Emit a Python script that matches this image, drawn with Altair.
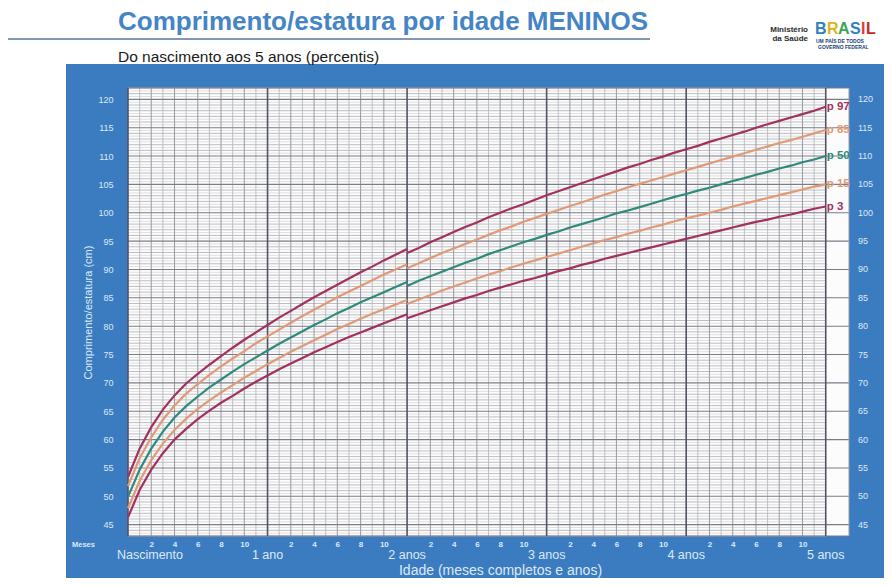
import altair as alt
import pandas as pd

# ---------------- data (WHO length/height-for-age, boys) ----------------
PCTS = ["p97", "p85", "p50", "p15", "p3"]
LABELS = ["p 97", "p 85", "p 50", "p 15", "p 3"]
COLORS = ["#a3305e", "#e09a77", "#2f8a7c", "#e09a77", "#a3305e"]

months_len = list(range(0, 25))
len_p3 = [46.3, 51.1, 54.7, 57.6, 60.0, 61.9, 63.6, 65.1, 66.5, 67.7, 69.0, 70.2, 71.3,
          72.4, 73.4, 74.4, 75.4, 76.3, 77.2, 78.1, 78.9, 79.7, 80.5, 81.3, 82.1]
len_p15 = [47.9, 52.7, 56.4, 59.3, 61.7, 63.7, 65.4, 66.9, 68.3, 69.6, 70.9, 72.1, 73.3,
           74.4, 75.5, 76.5, 77.5, 78.5, 79.5, 80.4, 81.3, 82.2, 83.0, 83.8, 84.6]
len_p50 = [49.9, 54.7, 58.4, 61.4, 63.9, 65.9, 67.6, 69.2, 70.6, 72.0, 73.3, 74.5, 75.7,
           76.9, 78.0, 79.1, 80.2, 81.2, 82.3, 83.2, 84.2, 85.1, 86.0, 86.9, 87.8]
len_p85 = [51.8, 56.7, 60.4, 63.5, 66.0, 68.1, 69.8, 71.4, 72.9, 74.3, 75.6, 77.0, 78.2,
           79.4, 80.6, 81.8, 82.9, 84.0, 85.1, 86.1, 87.1, 88.1, 89.1, 90.0, 90.9]
len_p97 = [53.4, 58.4, 62.2, 65.3, 67.8, 69.9, 71.6, 73.2, 74.7, 76.2, 77.6, 78.9, 80.2,
           81.5, 82.7, 83.9, 85.1, 86.2, 87.3, 88.4, 89.5, 90.5, 91.6, 92.6, 93.6]

months_hgt = list(range(24, 61))
hgt_p3 = [81.4, 82.1, 82.8, 83.5, 84.2, 84.9, 85.5, 86.2, 86.8, 87.4, 88.0, 88.5, 89.1,
          89.7, 90.2, 90.8, 91.3, 91.9, 92.4, 92.9, 93.4, 93.9, 94.4, 94.9, 95.4,
          95.9, 96.4, 96.9, 97.4, 97.9, 98.4, 98.8, 99.3, 99.7, 100.2, 100.7, 101.1]
hgt_p15 = [83.9, 84.7, 85.5, 86.3, 87.0, 87.7, 88.4, 89.1, 89.7, 90.4, 91.0, 91.6, 92.2,
           92.8, 93.4, 94.0, 94.6, 95.2, 95.7, 96.3, 96.8, 97.4, 97.9, 98.5, 99.0,
           99.5, 100.0, 100.5, 101.1, 101.6, 102.1, 102.6, 103.1, 103.6, 104.1, 104.6, 105.0]
hgt_p50 = [87.1, 88.0, 88.8, 89.6, 90.4, 91.2, 91.9, 92.7, 93.4, 94.1, 94.8, 95.4, 96.1,
           96.7, 97.4, 98.0, 98.6, 99.2, 99.9, 100.4, 101.0, 101.6, 102.2, 102.8, 103.3,
           103.9, 104.4, 105.0, 105.6, 106.1, 106.7, 107.2, 107.8, 108.3, 108.9, 109.4, 110.0]
hgt_p85 = [90.2, 91.1, 92.0, 92.9, 93.7, 94.5, 95.3, 96.1, 96.9, 97.6, 98.4, 99.1, 99.8,
           100.5, 101.2, 101.8, 102.5, 103.2, 103.8, 104.5, 105.1, 105.7, 106.3, 106.9, 107.5,
           108.1, 108.7, 109.3, 109.9, 110.5, 111.1, 111.7, 112.3, 112.8, 113.4, 114.0, 114.6]
hgt_p97 = [92.9, 93.8, 94.8, 95.7, 96.6, 97.5, 98.3, 99.2, 100.0, 100.8, 101.5, 102.3, 103.1,
           103.8, 104.5, 105.2, 105.9, 106.6, 107.3, 108.0, 108.6, 109.3, 109.9, 110.6, 111.2,
           111.8, 112.5, 113.1, 113.7, 114.3, 115.0, 115.6, 116.2, 116.8, 117.4, 118.0, 118.7]

y_ticks = list(range(45, 121, 5))
month_ticks = [m for m in range(2, 60, 2) if m % 12 != 0]
year_months = [12, 24, 36, 48, 60]
year_labels = ["1 ano", "2 anos", "3 anos", "4 anos", "5 anos"]

# ---------------- layout / style ----------------
W, H = 721, 448
X_DOM = [0, 62]
Y_DOM = [43, 122]
BLUE = "#3b7cc0"
LIGHT = "#dde9f6"
FONT = "Liberation Sans"

rows = []
len_series = [len_p97, len_p85, len_p50, len_p15, len_p3]
hgt_series = [hgt_p97, hgt_p85, hgt_p50, hgt_p15, hgt_p3]
for p, ls, hs in zip(PCTS, len_series, hgt_series):
    for m, v in zip(months_len, ls):
        rows.append({"x": m, "y": v, "pct": p, "seg": "comprimento"})
    for m, v in zip(months_hgt, hs):
        rows.append({"x": m, "y": v, "pct": p, "seg": "estatura"})
curves = pd.DataFrame(rows)

ends = pd.DataFrame({"x": [60] * 5, "y": [s[-1] for s in hgt_series], "pct": PCTS, "t": LABELS})

xs = alt.Scale(domain=X_DOM, nice=False, zero=False)
ys = alt.Scale(domain=Y_DOM, nice=False, zero=False)

AX_X = alt.Axis(values=month_ticks, labelExpr="datum.value % 12", labelFontSize=8,
                labelColor=LIGHT, labelFont=FONT, labelFontWeight="bold", labelPadding=4,
                ticks=False, domain=False, grid=False, zindex=1,
                title="Idade (meses completos e anos)", titleFont=FONT, titleFontSize=14,
                titleFontWeight="normal", titleColor=LIGHT, titleX=372, titleY=34,
                titleBaseline="middle", titleAnchor="middle")
AX_Y = alt.Axis(values=y_ticks, labelFontSize=9, labelColor=LIGHT, labelFont=FONT,
                labelPadding=15, ticks=False, domain=False, grid=False, zindex=1,
                title="Comprimento/estatura (cm)", titleFont=FONT, titleFontSize=11,
                titleFontWeight="normal", titleColor=LIGHT, titleX=-40, titleY=H / 2,
                titleBaseline="middle", titleAnchor="middle")


def X(f):
    return alt.X(f"{f}:Q", scale=xs, axis=AX_X)


def Y(f):
    return alt.Y(f"{f}:Q", scale=ys, axis=AX_Y)


one = pd.DataFrame({"a": [0]})

panel = alt.Chart(one).mark_rect(color=BLUE).encode(
    x=alt.value(-62), x2=alt.value(760), y=alt.value(-24), y2=alt.value(492))

paper = alt.Chart(pd.DataFrame({"x": [X_DOM[0]], "x2": [X_DOM[1]], "y": [Y_DOM[0]], "y2": [Y_DOM[1]]})
                  ).mark_rect(color="#fbfcfb").encode(x=X("x"), x2="x2", y=Y("y"), y2="y2")

# grid lines
half = [v / 2 for v in range(2 * Y_DOM[0], 2 * Y_DOM[1] + 1)]
h_minor = pd.DataFrame({"y": [v for v in half if v % 1 != 0], "x": 0, "x2": 60})
h_cm = pd.DataFrame({"y": [v for v in half if v % 1 == 0 and v % 5 != 0], "x": 0, "x2": 60})
h_five = pd.DataFrame({"y": [v for v in half if v % 5 == 0] + [Y_DOM[0], Y_DOM[1]], "x": 0, "x2": X_DOM[1]})
v_odd = pd.DataFrame({"x": [m for m in range(61) if m % 2 == 1], "y": Y_DOM[0], "y2": Y_DOM[1]})
v_even = pd.DataFrame({"x": [m for m in range(61) if m % 2 == 0 and m % 12 != 0], "y": Y_DOM[0], "y2": Y_DOM[1]})
v_year = pd.DataFrame({"x": [0, 12, 24, 36, 48, 60], "y": Y_DOM[0], "y2": Y_DOM[1]})
v_edge = pd.DataFrame({"x": [X_DOM[1]], "y": Y_DOM[0], "y2": Y_DOM[1]})


def hrule(df, color, w):
    return alt.Chart(df).mark_rule(color=color, strokeWidth=w).encode(x=X("x"), x2="x2", y=Y("y"))


def vrule(df, color, w):
    return alt.Chart(df).mark_rule(color=color, strokeWidth=w).encode(x=X("x"), y=Y("y"), y2="y2")


grid = [
    hrule(h_minor, "#d8d8da", 0.8),
    hrule(h_cm, "#b6b6bc", 0.9),
    vrule(v_odd, "#b9b9c1", 0.9),
    vrule(v_even, "#9a99a6", 1.0),
    hrule(h_five, "#7c7b88", 1.1),
    vrule(v_year, "#535268", 1.6),
    vrule(v_edge, "#9a99a6", 1.0),
]

color = alt.Color("pct:N", scale=alt.Scale(domain=PCTS, range=COLORS), legend=None)

lines = alt.Chart(curves).mark_line(strokeWidth=2.2).encode(
    x=X("x"), y=Y("y"), color=color, detail="seg:N")

end_labels = alt.Chart(ends).mark_text(align="left", baseline="middle", dx=1, fontSize=11.5,
                                       fontWeight="bold", font=FONT).encode(
    x=X("x"), y=Y("y"), text="t:N", color=color)

right_axis = alt.Chart(pd.DataFrame({"y": y_ticks})).mark_text(
    align="left", baseline="middle", fontSize=9, font=FONT, color=LIGHT).encode(
    x=alt.value(W + 9), y=Y("y"), text="y:Q")

years = alt.Chart(pd.DataFrame({"x": year_months, "t": year_labels})).mark_text(
    align="center", baseline="middle", fontSize=12.5, font=FONT, color=LIGHT).encode(
    x=X("x"), y=alt.value(H + 19), text="t:N")

birth = alt.Chart(pd.DataFrame({"x": [0], "t": ["Nascimento"]})).mark_text(
    align="left", baseline="middle", fontSize=12.5, font=FONT, color=LIGHT, dx=-11).encode(
    x=X("x"), y=alt.value(H + 19), text="t:N")


def label(text, x, y, size, color, weight="normal", align="left"):
    return alt.Chart(pd.DataFrame({"t": [text]})).mark_text(
        align=align, baseline="middle", fontSize=size, fontWeight=weight, font=FONT, color=color
    ).encode(x=alt.value(x), y=alt.value(y), text="t:N")


meses = label("Meses", -56, H + 9, 7.5, LIGHT, "bold")
title = label("Comprimento/estatura por idade MENINOS", -10, -66, 26, "#4585c6", "bold")
subtitle = label("Do nascimento aos 5 anos (percentis)", -10, -31, 15.5, "#1a1a1a")

underline = alt.Chart(one).mark_rule(color="#8198b2", strokeWidth=2).encode(
    x=alt.value(-125), x2=alt.value(522), y=alt.value(-49))

ministerio = [label("Ministério", 680, -58, 8, "#2b2b2b", "bold", "right"),
              label("da Saúde", 680, -49, 8, "#2b2b2b", "bold", "right")]

logo_letters = ["B", "R", "A", "S", "I", "L"]
logo_x = [687, 699, 710, 722, 733, 738]
logo_colors = ["#2f7fc1", "#e0b318", "#3aa655", "#2f7fc1", "#e53935", "#c62828"]
logo = [label(t, xx, -59, 16, c, "bold") for t, xx, c in zip(logo_letters, logo_x, logo_colors)]
logo_small = [label("UM PAÍS DE TODOS", 688, -47, 5, "#1d3f73", "bold"),
              label("GOVERNO FEDERAL", 690, -41, 5, "#1d3f73", "bold")]

chart = alt.layer(
    panel, paper, *grid, lines, end_labels, right_axis, years, birth, meses,
    title, subtitle, underline, *ministerio, *logo, *logo_small
).properties(
    width=W, height=H,
    autosize=alt.AutoSizeParams(type="none"),
    padding={"left": 120, "top": 80, "right": 35, "bottom": 42},
    background="white",
).configure_view(stroke=None)

chart.save("out.html", embed_options={"renderer": "svg", "actions": False})
